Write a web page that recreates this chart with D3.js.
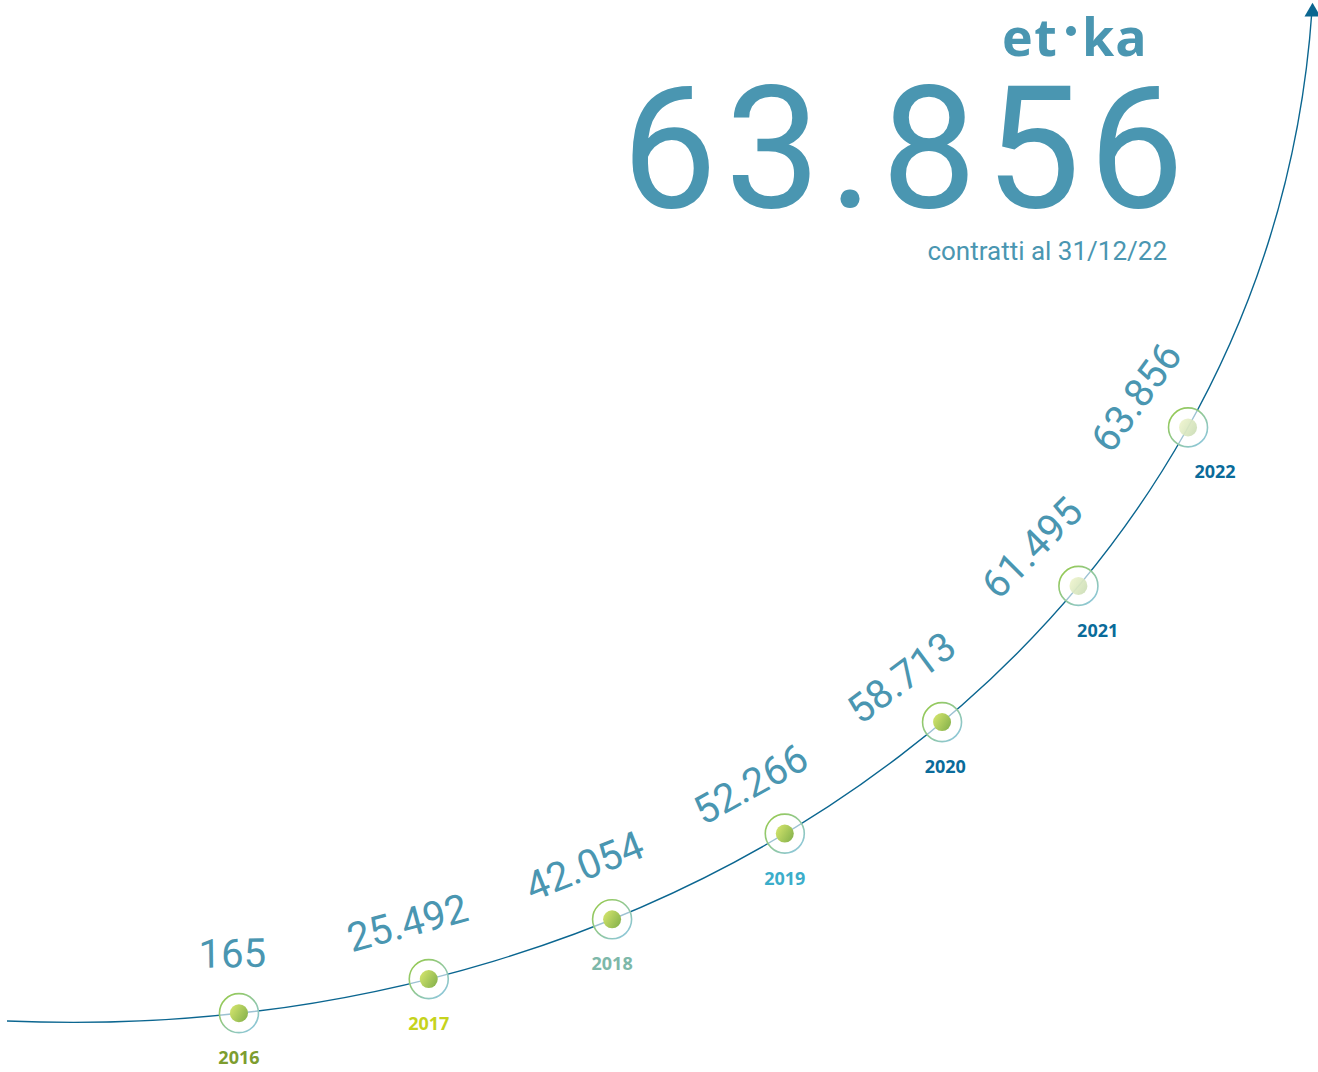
<!DOCTYPE html>
<html>
<head>
<meta charset="utf-8">
<script src="https://cdn.jsdelivr.net/npm/d3@7"></script>
<style>
  html, body { margin: 0; padding: 0; background: #ffffff; }
  svg { display: block; }
</style>
</head>
<body>
<svg id="chart" width="1318" height="1072"></svg>
<script>
// ---- data ----
const years = [2016, 2017, 2018, 2019, 2020, 2021, 2022];
const values = [165, 25492, 42054, 52266, 58713, 61495, 63856];
const yearColors = ["#7d9d2f", "#c6d31c", "#7db8a9", "#3badca", "#0a6b9a", "#0a6b9a", "#0a6b9a"];
const totalLabel = "contratti al 31/12/22";
const brand = ["et", "ka"];

// ---- setup ----
const W = 1318, H = 1072;
const teal = "#4a96b1";
const lineColor = "#0b6690";
const svg = d3.select("#chart");
const it = d3.formatLocale({decimal: ",", thousands: ".", grouping: [3], currency: ["€", ""]});
const fmt = it.format(",d");

const defs = svg.append("defs");
const ringGrad = defs.append("linearGradient").attr("id", "ringGrad")
  .attr("x1", "0%").attr("y1", "0%").attr("x2", "100%").attr("y2", "100%");
ringGrad.append("stop").attr("offset", "15%").attr("stop-color", "#94c95a");
ringGrad.append("stop").attr("offset", "85%").attr("stop-color", "#8ec7d3");
const dotGrad = defs.append("linearGradient").attr("id", "dotGrad")
  .attr("x1", "0%").attr("y1", "20%").attr("x2", "100%").attr("y2", "80%");
dotGrad.append("stop").attr("offset", "0%").attr("stop-color", "#d3e46c");
dotGrad.append("stop").attr("offset", "100%").attr("stop-color", "#86b24c");
const paleGrad = defs.append("linearGradient").attr("id", "paleGrad")
  .attr("x1", "0%").attr("y1", "20%").attr("x2", "100%").attr("y2", "80%");
paleGrad.append("stop").attr("offset", "0%").attr("stop-color", "#eef4cc");
paleGrad.append("stop").attr("offset", "100%").attr("stop-color", "#c9dcb4");

// ---- guide curve (decorative growth arc) ----
const p = d3.path();
p.moveTo(7, 1021);
p.bezierCurveTo(690, 1050, 1270, 622, 1312, 10);
const curve = svg.append("path").attr("d", p.toString())
  .attr("fill", "none").attr("stroke", lineColor).attr("stroke-width", 1.4);
const L = curve.node().getTotalLength();

// arrow head
svg.append("path")
  .attr("d", d3.symbol(d3.symbolTriangle, 110)())
  .attr("transform", "translate(1312.5,12)")
  .attr("fill", lineColor);

// scale: year -> distance along the curve
const along = d3.scaleLinear().domain(d3.extent(years)).range([0.127 * L, 0.76 * L]);
// tangent angle -> label rotation
const rotOf = d3.scaleLinear().domain([-6, -14, -62]).range([0, -15, -55]).clamp(true);

const pts = years.map((y, i) => {
  const l = along(y);
  const a = curve.node().getPointAtLength(l - 2);
  const b = curve.node().getPointAtLength(l + 2);
  const c = curve.node().getPointAtLength(l);
  const ang = Math.atan2(b.y - a.y, b.x - a.x) * 180 / Math.PI;
  return {year: y, value: values[i], x: c.x, y: c.y, ang: ang, i: i};
});

// ---- markers ----
const mk = svg.append("g").selectAll("g").data(pts).join("g")
  .attr("transform", d => `translate(${d.x},${d.y})`);
mk.append("circle").attr("r", 19.5)
  .attr("fill", "#ffffff").attr("fill-opacity", 0.6)
  .attr("stroke", "url(#ringGrad)").attr("stroke-width", 1.6);
mk.append("circle").attr("r", 9)
  .attr("fill", d => d.i >= 5 ? "url(#paleGrad)" : "url(#dotGrad)")
  .attr("fill-opacity", d => d.i >= 5 ? 0.9 : 1);

// year labels
mk.append("text")
  .attr("x", d => Math.max(0, Math.min(27, (-d.ang - 38) * 1.6)))
  .attr("y", 51)
  .attr("text-anchor", "middle")
  .attr("font-family", "'Noto Sans', sans-serif")
  .attr("font-weight", 700)
  .attr("font-size", 18)
  .attr("fill", d => yearColors[d.i])
  .text(d => d.year);

// value labels rotated along the curve
svg.append("g").selectAll("text").data(pts).join("text")
  .attr("transform", d => `translate(${d.x},${d.y}) rotate(${rotOf(d.ang)})`)
  .attr("x", -6).attr("y", -46)
  .attr("text-anchor", "middle")
  .attr("font-family", "Roboto, sans-serif")
  .attr("font-weight", 400)
  .attr("font-size", 40)
  .attr("fill", teal)
  .text(d => fmt(d.value));

// ---- headline ----
svg.append("text")
  .attr("x", 1192).attr("y", 207)
  .attr("text-anchor", "end")
  .attr("font-family", "Roboto, sans-serif")
  .attr("font-weight", 400)
  .attr("font-size", 170)
  .attr("letter-spacing", 8)
  .attr("fill", teal)
  .text(fmt(values[values.length - 1]));

svg.append("text")
  .attr("x", 1167).attr("y", 260)
  .attr("text-anchor", "end")
  .attr("font-family", "Roboto, sans-serif")
  .attr("font-weight", 400)
  .attr("font-size", 26)
  .attr("fill", teal)
  .text(totalLabel);

// brand
const logo = svg.append("g").attr("fill", teal)
  .attr("font-family", "'Open Sans', sans-serif").attr("font-weight", 700).attr("font-size", 52);
logo.append("text").attr("x", 1002).attr("y", 56).attr("letter-spacing", 1.5).text(brand[0]);
logo.append("circle").attr("cx", 1071).attr("cy", 31).attr("r", 5);
logo.append("text").attr("x", 1082).attr("y", 56).attr("letter-spacing", 1).text(brand[1]);
</script>
</body>
</html>
